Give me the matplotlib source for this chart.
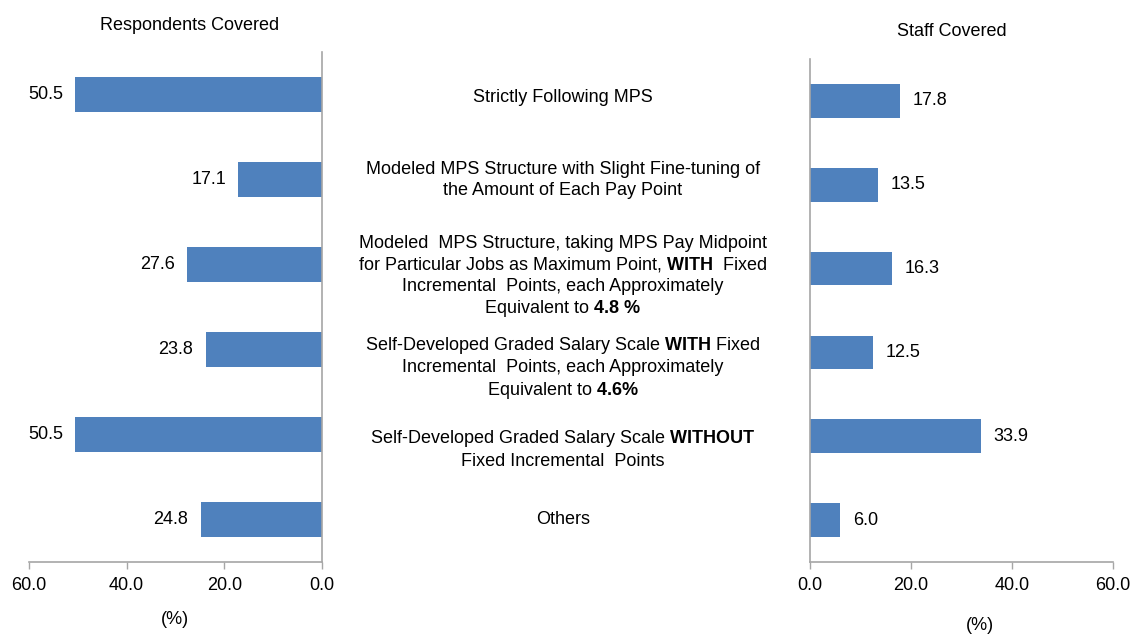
import matplotlib.pyplot as plt

plt.rcParams['font.family'] = ['Liberation Sans', 'DejaVu Sans']
plt.rcParams['mathtext.fontset'] = 'custom'
plt.rcParams['mathtext.rm'] = 'Liberation Sans'
plt.rcParams['mathtext.bf'] = 'Liberation Sans:bold'

categories = [
    "Strictly Following MPS",
    "Modeled MPS Structure with Slight Fine-tuning of\nthe Amount of Each Pay Point",
    "Modeled  MPS Structure, taking MPS Pay Midpoint\nfor Particular Jobs as Maximum Point, $\\bf{WITH}$  Fixed\nIncremental  Points, each Approximately\nEquivalent to $\\bf{4.8\\ \\%}$",
    "Self-Developed Graded Salary Scale $\\bf{WITH}$ Fixed\nIncremental  Points, each Approximately\nEquivalent to $\\bf{4.6\\%}$",
    "Self-Developed Graded Salary Scale $\\bf{WITHOUT}$\nFixed Incremental  Points",
    "Others",
]
respondents = [50.5, 17.1, 27.6, 23.8, 50.5, 24.8]
staff = [17.8, 13.5, 16.3, 12.5, 33.9, 6.0]
ticks = [0, 20, 40, 60]

W, H = 1132, 634
fig = plt.figure(figsize=(W / 100, H / 100), dpi=100)

def px(x0, y0, x1, y1):
    # pixel box (from top-left) -> figure fraction rect
    return [x0 / W, 1 - y1 / H, (x1 - x0) / W, (y1 - y0) / H]

bar_color = '#4F81BD'
spine_color = '#A6A6A6'
fs = 13

axL = fig.add_axes(px(29, 52, 322, 562))
axR = fig.add_axes(px(810, 59, 1113, 562))
pos = list(range(len(categories)))

axL.barh(pos, respondents, height=0.41, color=bar_color)
axL.set_xlim(60, 0)
axR.barh(pos, staff, height=0.4, color=bar_color)
axR.set_xlim(0, 60)

for ax in (axL, axR):
    ax.set_ylim(len(categories) - 0.5, -0.5)
    ax.set_yticks([])
    ax.set_xticks(ticks)
    ax.set_xticklabels([f"{t:.1f}" for t in ticks], fontsize=fs)
    ax.tick_params(axis='x', color=spine_color, length=5, width=1, pad=6)
    ax.spines['top'].set_visible(False)
    for s in ('left', 'right', 'bottom'):
        ax.spines[s].set_color(spine_color)
        ax.spines[s].set_linewidth(1.2)

axL.spines['left'].set_visible(False)
axR.spines['right'].set_visible(False)

for i, v in enumerate(respondents):
    axL.annotate(f"{v:.1f}", (v, i), xytext=(-9, 0), textcoords='offset points',
                 ha='right', va='center', fontsize=fs)
for i, v in enumerate(staff):
    axR.annotate(f"{v:.1f}", (v, i), xytext=(9, 0), textcoords='offset points',
                 ha='left', va='center', fontsize=fs)

# category labels sit in the gap between the two panels
label_y = [97, 180, 277, 368, 449, 519]
for txt, y in zip(categories, label_y):
    fig.text(563 / W, 1 - y / H, txt, ha='center', va='center', fontsize=fs,
             linespacing=1.25)

fig.text(190 / W, 1 - 25 / H, "Respondents Covered", ha='center', va='center', fontsize=fs)
fig.text(952 / W, 1 - 32 / H, "Staff Covered", ha='center', va='center', fontsize=fs)
fig.text(175 / W, 1 - 620 / H, "(%)", ha='center', va='center', fontsize=fs)
fig.text(980 / W, 1 - 625 / H, "(%)", ha='center', va='center', fontsize=fs)

fig.savefig('out.png', dpi=100)
